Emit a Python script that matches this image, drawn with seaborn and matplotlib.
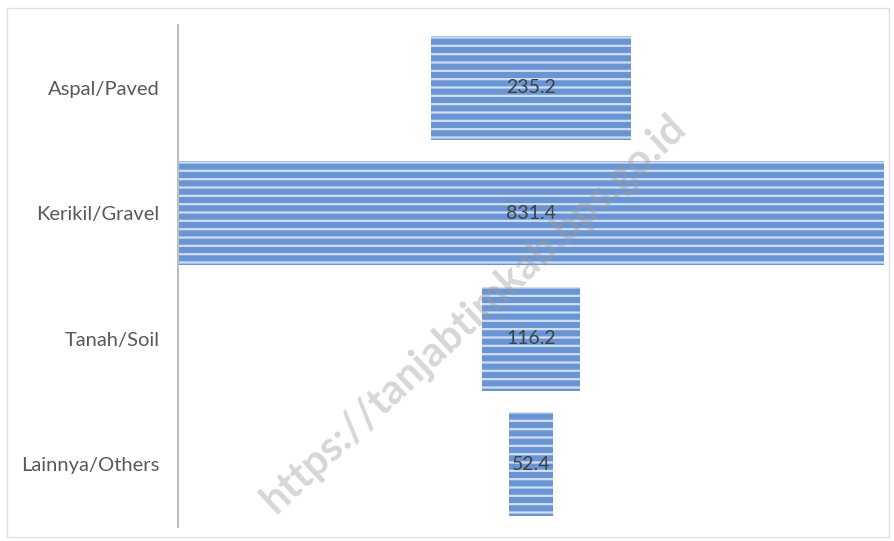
import matplotlib
matplotlib.use("Agg")
import matplotlib.pyplot as plt
import matplotlib.patches as mpatches
import seaborn as sns
import pandas as pd

# road surface length (km)
categories = ["Aspal/Paved", "Kerikil/Gravel", "Tanah/Soil", "Lainnya/Others"]
values = [235.2, 831.4, 116.2, 52.4]

df = pd.DataFrame({"jenis": categories, "panjang": values})

sns.set_style("white")
plt.rcParams["font.family"] = ["Lato", "DejaVu Sans"]
plt.rcParams["hatch.linewidth"] = 1.6

fig = plt.figure(figsize=(8.94, 5.41), dpi=100)
ax = fig.add_axes([0.199, 0.026, 0.79, 0.928])

sns.barplot(data=df, x="panjang", y="jenis", orient="h", ax=ax,
            color="#6a95d4", width=0.83, saturation=1)

# funnel: centre every bar on the widest one
widest = max(values)
for patch, v in zip(ax.patches, values):
    patch.set_x((widest - v) / 2)
    patch.set_hatch("--")
    patch.set_edgecolor("#cfdef3")
    patch.set_linewidth(0)
    y = patch.get_y() + patch.get_height() / 2
    ax.text(widest / 2, y, f"{v:.1f}", ha="center", va="center",
            fontsize=14, color="#404040", zorder=5)

ax.set_xlim(0, widest)
ax.set_xlabel("")
ax.set_ylabel("")
ax.set_xticks([])
ax.tick_params(axis="y", length=0, pad=13, labelsize=14.5, labelcolor="#595959")
for s in ["top", "right", "bottom"]:
    ax.spines[s].set_visible(False)
ax.spines["left"].set_color("#bfbfbf")
ax.spines["left"].set_linewidth(1.5)

# watermark
fig.text(0.53, 0.42, "https://tanjabtimkab.bps.go.id", rotation=43,
         ha="center", va="center", fontsize=30, fontweight="bold",
         color="#9a9a9a", alpha=0.4, zorder=10)

# outer chart frame
fig.patches.append(mpatches.Rectangle((0.008, 0.008), 0.986, 0.977,
                                      transform=fig.transFigure, fill=False,
                                      edgecolor="#e0e0e0", linewidth=1))

fig.savefig("out.png", dpi=100)
